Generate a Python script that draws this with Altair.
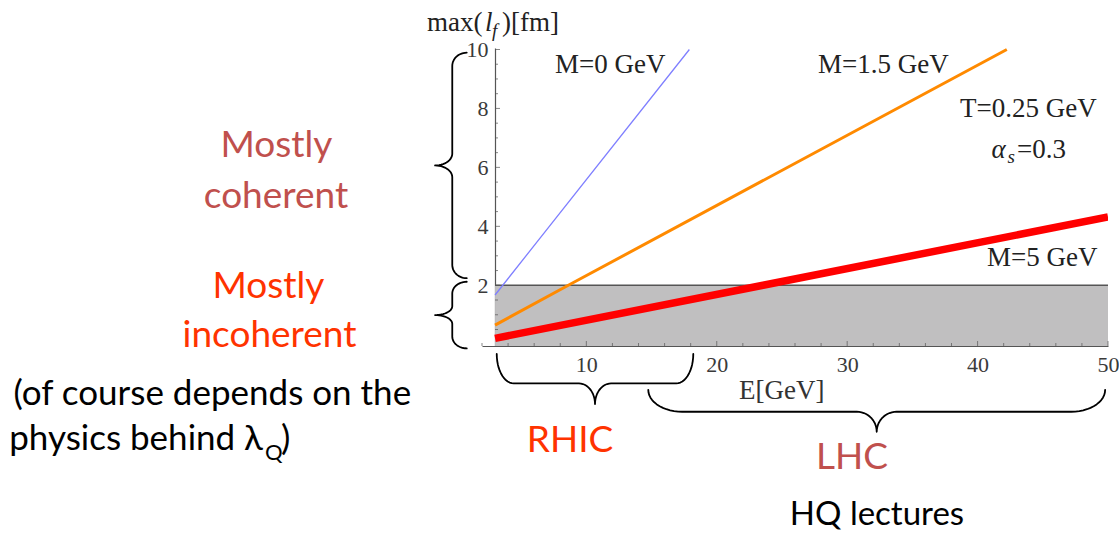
import altair as alt
import numpy as np
import pandas as pd

# ---------------- data ----------------
E_m0 = [3.0, 6.45, 17.9]
L_m0 = [1.67, 3.6, 10.0]
E_m15 = [3.0, 8.62, 42.24]
L_m15 = [0.65, 2.0, 10.0]
E_m5 = [3.0, 23.55, 50.0]
L_m5 = [0.2, 2.0, 4.32]

band_E = [3.0, 50.0]
band_L = [-0.06, 2.0]

x_tick_labels = [10, 20, 30, 40, 50]
y_tick_labels = [2, 4, 6, 8, 10]
x_minor = [2, 4, 6, 8, 12, 14, 16, 18, 22, 24, 26, 28, 32, 34, 36, 38, 42, 44, 46, 48]
y_minor = [0.5, 1, 1.5, 2.5, 3, 3.5, 4.5, 5, 5.5, 6.5, 7, 7.5, 8.5, 9, 9.5]

# brace specs: (name, orientation, along0, along1, across_end, across_spine, across_cusp, r_hook, r_cusp)
braces = [
    ("coh", "v", 2.24, 9.89, 0.83, -0.28, -1.60, 0.45, 0.40),
    ("inc", "v", -0.14, 2.12, 0.83, -0.28, -1.60, 0.40, 0.30),
    ("rhic", "h", 3.13, 18.2, -0.33, -1.33, -2.03, 1.3, 1.23),
    ("lhc", "h", 14.75, 49.78, -1.55, -2.29, -2.97, 2.6, 1.53),
]

W, H = 626, 298
LEFT, TOP = 482, 48
YAX = 13  # y axis sits at E=3

xs = alt.Scale(domain=[2, 50], nice=False, zero=False)
ys = alt.Scale(domain=[-0.06, 10.05], nice=False, zero=False)

SERIF = "Liberation Serif"
SANS = "Lato"


def brace_points(a0, a1, c_end, c_spine, c_cusp, r_hook, r_cusp, n=14):
    am = (a0 + a1) / 2
    pts = []
    for p in np.linspace(0, np.pi / 2, n):
        pts.append((a0 + r_hook - r_hook * np.cos(p), c_end + (c_spine - c_end) * np.sin(p)))
    for t in np.linspace(0, np.pi / 2, n):
        pts.append((am - r_cusp + r_cusp * np.sin(t), c_cusp + (c_spine - c_cusp) * np.cos(t)))
    for t in np.linspace(np.pi / 2, 0, n):
        pts.append((am + r_cusp - r_cusp * np.sin(t), c_cusp + (c_spine - c_cusp) * np.cos(t)))
    for p in np.linspace(np.pi / 2, 0, n):
        pts.append((a1 - r_hook + r_hook * np.cos(p), c_end + (c_spine - c_end) * np.sin(p)))
    return pts


rows = []
for name, orient, a0, a1, ce, cs, cc, rh, rc in braces:
    for i, (al, ac) in enumerate(brace_points(a0, a1, ce, cs, cc, rh, rc)):
        if orient == "v":
            rows.append({"b": name, "i": i, "E": ac, "L": al})
        else:
            rows.append({"b": name, "i": i, "E": al, "L": ac})
df_br = pd.DataFrame(rows)

# ---------------- layers ----------------
band = alt.Chart(pd.DataFrame({"x0": [band_E[0]], "x1": [band_E[1]], "y0": [band_L[0]], "y1": [band_L[1]]})).mark_rect(
    color="#c0bfc0"
).encode(
    x=alt.X("x0:Q", scale=xs, axis=alt.Axis(
        values=x_tick_labels, ticks=False, grid=False, title=None,
        labelFont=SERIF, labelFontSize=22, labelColor="#3a3a3a", labelPadding=8,
        labelFlush=False, labelOverlap=False,
        domainColor="#555", domainWidth=1.2)),
    x2="x1:Q",
    y=alt.Y("y0:Q", scale=ys, axis=alt.Axis(
        values=y_tick_labels, ticks=False, grid=False, title=None, offset=-YAX,
        labelFont=SERIF, labelFontSize=22, labelColor="#3a3a3a", labelPadding=7,
        labelFlush=False, labelOverlap=False,
        domainColor="#555", domainWidth=1.2)),
    y2="y1:Q",
)

band_top = alt.Chart(pd.DataFrame({"x0": [band_E[0]], "x1": [band_E[1]], "y": [band_L[1]]})).mark_rule(
    color="#555", strokeWidth=1.5
).encode(
    x=alt.X("x0:Q", scale=xs, axis=None), x2="x1:Q",
    y=alt.Y("y:Q", scale=ys, axis=None),
)


def xticks(vals, length):
    return alt.Chart(pd.DataFrame({"E": vals})).mark_tick(color="#555", thickness=1, size=length).encode(
        x=alt.X("E:Q", scale=xs, axis=None), y=alt.value(H - length / 2)
    )


def yticks(vals, length):
    return alt.Chart(pd.DataFrame({"L": vals})).mark_tick(color="#555", thickness=1, size=length).encode(
        y=alt.Y("L:Q", scale=ys, axis=None), x=alt.value(YAX + length / 2)
    )


tick_layers = [
    xticks(x_tick_labels, 5), xticks(x_minor, 3),
    yticks(y_tick_labels, 5), yticks(y_minor, 3),
]


def series_layer(E, L, color, width):
    df = pd.DataFrame({"E": E, "L": L})
    return alt.Chart(df).mark_line(color=color, strokeWidth=width, strokeCap="butt", clip=True).encode(
        x=alt.X("E:Q", scale=xs, axis=None),
        y=alt.Y("L:Q", scale=ys, axis=None),
    )


blue = series_layer(E_m0, L_m0, "#7f7fff", 1.3)
orange = series_layer(E_m15, L_m15, "#ff8a00", 3.0)
red = series_layer(E_m5, L_m5, "#ff0000", 7.5)

brace_layer = alt.Chart(df_br).mark_line(color="black", strokeWidth=1.8, strokeCap="round", strokeJoin="round").encode(
    x=alt.X("E:Q", scale=xs, axis=None),
    y=alt.Y("L:Q", scale=ys, axis=None),
    detail="b:N",
    order="i:Q",
)


def txt(s, x, y, size, color, font, align="left", italic=False):
    kw = dict(text=s, fontSize=size, color=color, font=font, align=align, baseline="alphabetic")
    if italic:
        kw["fontStyle"] = "italic"
    return alt.Chart(alt.Data(values=[{"a": 1}])).mark_text(**kw).encode(
        x=alt.value(x - LEFT), y=alt.value(y - TOP)
    )


texts = [
    # serif annotations inside the plot
    txt("M=0 GeV", 555, 72.5, 27, "#222", SERIF),
    txt("M=1.5 GeV", 818, 72.5, 27, "#222", SERIF),
    txt("T=0.25 GeV", 960, 117, 27, "#222", SERIF),
    txt("α", 991.5, 158, 27, "#222", SERIF, italic=True),
    txt("s", 1007.5, 163, 19, "#222", SERIF, italic=True),
    txt("=0.3", 1017, 158, 27, "#222", SERIF),
    txt("M=5 GeV", 987, 266, 27, "#222", SERIF),
    txt("E[GeV]", 739, 399, 27, "#333", SERIF),
    txt("max(", 427, 31, 27, "#222", SERIF),
    txt("l", 485, 31, 27, "#222", SERIF, italic=True),
    txt("f", 492, 37, 19, "#222", SERIF, italic=True),
    txt(")[fm]", 502, 31, 27, "#222", SERIF),
    # slide texts
    txt("Mostly", 276.5, 157, 37, "#c0504d", SANS, align="center"),
    txt("coherent", 276, 208, 37, "#c0504d", SANS, align="center"),
    txt("Mostly", 268.5, 297.5, 37, "#ff3300", SANS, align="center"),
    txt("incoherent", 269.5, 347, 37, "#ff3300", SANS, align="center"),
    txt("(of course depends on the", 13.5, 405, 35, "black", SANS),
    txt("physics behind λ", 263, 450, 35, "black", SANS, align="right"),
    txt("Q", 265, 460, 22, "black", SANS),
    txt(")", 281, 450, 35, "black", SANS),
    txt("RHIC", 570, 452, 37, "#ff3300", SANS, align="center"),
    txt("LHC", 852, 469, 37, "#c0504d", SANS, align="center"),
    txt("HQ lectures", 877, 525, 33, "black", SANS, align="center"),
]

chart = alt.layer(band, band_top, *tick_layers, blue, orange, red, brace_layer, *texts).resolve_axis(
    x="independent", y="independent"
).properties(
    width=W, height=H,
    padding={"left": LEFT, "top": TOP, "right": 1119 - LEFT - W, "bottom": 533 - TOP - H},
    autosize=alt.AutoSizeParams(type="none"),
    background="white",
).configure_view(stroke=None)

chart.save("out.html", embed_options={"renderer": "svg", "actions": False})
